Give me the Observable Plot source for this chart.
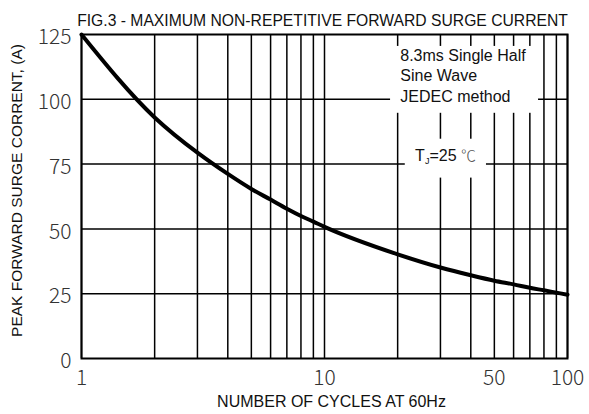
<!DOCTYPE html>
<html>
<head>
<meta charset="utf-8">
<script src="https://cdn.jsdelivr.net/npm/d3@7"></script>
<script src="https://cdn.jsdelivr.net/npm/@observablehq/plot@0.6"></script>
<style>
  html, body { margin: 0; padding: 0; background: #fff; }
  svg { display: block; }
</style>
</head>
<body>
<div id="chart"></div>
<script>
// Data
const cycles  = [1, 2, 3, 4, 5, 6, 7, 8, 9, 10, 20, 30, 40, 50, 60, 70, 80, 90, 100];
const current = [125, 93, 79.4, 71.2, 65.4, 61.3, 57.8, 55, 52.8, 50.8, 40.2, 35.1, 32.1, 30, 28.6, 27.3, 26.3, 25.4, 24.6];

const gridX = [1, 2, 3, 4, 5, 6, 7, 8, 9, 10, 20, 30, 40, 50, 60, 70, 80, 90, 100];
const gridY = [25, 50, 75, 100];
const xTicks = [1, 10, 50, 100];
const yTicks = [0, 25, 50, 75, 100, 125];

const titleText = "FIG.3 - MAXIMUM NON-REPETITIVE FORWARD SURGE CURRENT";
const xLabel = "NUMBER OF CYCLES AT 60Hz";
const yLabel = "PEAK FORWARD SURGE CORRENT, (A)";

// Annotation boxes (data units)
const noteBoxes = [
  {x1: 18.7, x2: 76, y1: 94.6, y2: 120.4},
  {x1: 21.5, x2: 46.4, y1: 69.6, y2: 84.6}
];
const noteText = [{x: 20.5, y: 120.4, text: "8.3ms Single Half\nSine Wave\nJEDEC method"}];
const tjText = [{x: 23.6, y: 78.3, text: "TJ=25 ℃"}];

const data = cycles.map((c, i) => ({c, v: current[i]}));
const tickFont = "'Noto Sans CJK JP', 'Noto Sans', sans-serif";

const svg = Plot.plot({
  width: 589,
  height: 414,
  marginLeft: 81,
  marginRight: 22,
  marginTop: 34,
  marginBottom: 56,
  style: {fontFamily: "'Liberation Sans', Arial, sans-serif", background: "#fff", color: "#111"},
  x: {type: "log", domain: [1, 100], axis: null},
  y: {domain: [0, 125], axis: null},
  marks: [
    Plot.ruleX(gridX, {stroke: "#000", strokeWidth: 1.5}),
    Plot.ruleY(gridY, {stroke: "#000", strokeWidth: 1.5}),
    Plot.rect(noteBoxes, {x1: "x1", x2: "x2", y1: "y1", y2: "y2", fill: "#fff"}),
    Plot.frame({stroke: "#000", strokeWidth: 2}),
    Plot.line(data, {x: "c", y: "v", stroke: "#000", strokeWidth: 4, curve: "monotone-x"}),
    Plot.text(yTicks, {y: d => d, text: d => String(d), frameAnchor: "left", textAnchor: "end", dx: -10, dy: 3,
      fontSize: 21, fill: "#333", fontFamily: tickFont, fontWeight: 300}),
    Plot.text(xTicks, {x: d => d, text: d => String(d), frameAnchor: "bottom", dy: 26,
      fontSize: 21, fill: "#333", fontFamily: tickFont, fontWeight: 300}),
    Plot.text(noteText, {x: "x", y: "y", text: "text", textAnchor: "start", lineAnchor: "top", lineHeight: 1.28, fontSize: 16, fill: "#111"}),
    Plot.text(tjText, {x: "x", y: "y", text: "text", textAnchor: "start", fontSize: 16, fill: "#111"}),
    Plot.text([titleText], {frameAnchor: "top", dy: -20, dx: -2, fontSize: 15.7, fill: "#111"}),
    Plot.text([xLabel], {frameAnchor: "bottom", dy: 48, dx: 7, fontSize: 16, fill: "#111"}),
    Plot.text([yLabel], {frameAnchor: "left", dx: -64, dy: -6, rotate: -90, textAnchor: "middle", fontSize: 15.5, fill: "#111"})
  ]
});

// Subscript J and lighter degree sign
svg.querySelectorAll("text").forEach(t => {
  if (t.textContent === "TJ=25 ℃") {
    t.textContent = "";
    const ns = "http://www.w3.org/2000/svg";
    const a = document.createElementNS(ns, "tspan"); a.textContent = "T";
    const b = document.createElementNS(ns, "tspan"); b.textContent = "J"; b.setAttribute("font-size", "9"); b.setAttribute("dy", "3");
    const c = document.createElementNS(ns, "tspan"); c.textContent = "=25 "; c.setAttribute("dy", "-3");
    const d = document.createElementNS(ns, "tspan"); d.textContent = "℃"; d.setAttribute("fill", "#555"); d.setAttribute("font-weight", "300");
    d.setAttribute("font-family", "'Noto Sans CJK JP', sans-serif"); d.setAttribute("font-size", "15");
    t.append(a, b, c, d);
  }
});

document.getElementById("chart").append(svg);
</script>
</body>
</html>
